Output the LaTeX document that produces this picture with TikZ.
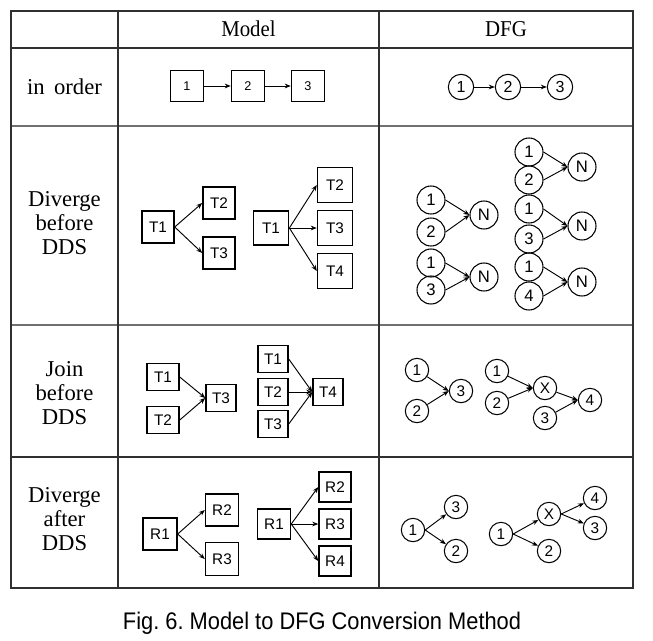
\documentclass[tikz,border=0pt]{standalone}
\usepackage{fontspec}
\setmainfont{Liberation Serif}
\newfontfamily\lsans{Liberation Sans}
\usetikzlibrary{arrows.meta}
\definecolor{rowgray}{HTML}{707070}
\definecolor{edge}{HTML}{303030}
\begin{document}
\begin{tikzpicture}[x=0.75pt,y=-0.75pt,
  lbl/.style={font=\fontsize{17}{18}\selectfont, align=center, inner sep=0},
  bx/.style={draw=black, line width=1.1pt, minimum width=24pt, minimum height=24pt, inner sep=0, font=\lsans\fontsize{11.5}{12}\selectfont},
  cr/.style={draw=black, circle, line width=0.8pt, minimum size=21pt, inner sep=0, font=\lsans\fontsize{12.5}{13}\selectfont},
  crs/.style={cr, minimum size=17.5pt, font=\lsans\fontsize{11.5}{12}\selectfont},
  ar/.style={-{Stealth[length=4.5pt,width=3.5pt]}, line width=0.7pt},
  rowline/.style={draw=rowgray, line width=1.4pt},
  thinline/.style={draw=edge, line width=1pt}
]
\useasboundingbox (0,0) rectangle (653,640);
% table
\draw[rowline] (11,126) -- (633,126);
\draw[rowline] (11,325) -- (633,325);
\draw[thinline] (11,48) -- (633,48);
\draw[thinline] (11,457) -- (633,457);
\draw[thinline] (118,11) -- (118,588);
\draw[thinline] (379,11) -- (379,588);
\draw[draw=edge, line width=1.4pt] (11,11) rectangle (633,588);
% headers
\node[lbl] (hm) at (248.5,29) {\scalebox{0.92}[1]{Model}};
\node[lbl] (hd) at (506,29) {\scalebox{0.92}[1]{DFG}};
\node[lbl] (r1) at (64.5,87) {in\, order};
\node[lbl] (r2) at (64.5,223) {Diverge\\before\\DDS};
\node[lbl] (r3) at (64.5,393) {Join\\before\\DDS};
\node[lbl] (r4) at (64.5,519) {Diverge\\after\\DDS};
% row: in order
\node[bx, minimum width=24.75pt, minimum height=23.25pt, font=\lsans\fontsize{9.5}{10}\selectfont] (o1) at (187,86) {1};
\node[bx, minimum width=24.75pt, minimum height=23.25pt, font=\lsans\fontsize{9.5}{10}\selectfont] (o2) at (248,86) {2};
\node[bx, minimum width=24.75pt, minimum height=23.25pt, font=\lsans\fontsize{9.5}{10}\selectfont] (o3) at (308,86) {3};
\draw[ar] (o1) -- (o2);
\draw[ar] (o2) -- (o3);
\node[cr, minimum size=19pt, font=\lsans\fontsize{12}{12}\selectfont] (c1) at (461,87) {1};
\node[cr, minimum size=19pt, font=\lsans\fontsize{12}{12}\selectfont] (c2) at (508,87) {2};
\node[cr, minimum size=19pt, font=\lsans\fontsize{12}{12}\selectfont] (c3) at (560,87) {3};
\draw[ar] (c1) -- (c2);
\draw[ar] (c2) -- (c3);
% row: diverge before DDS - model
\node[bx] (a1) at (158,227) {T1};
\node[bx] (a2) at (219,203) {T2};
\node[bx] (a3) at (219,253) {T3};
\draw[ar] (a1.east) -- (a2.west);
\draw[ar] (a1.east) -- (a3.west);
\node[bx, minimum width=26.25pt, minimum height=25.5pt, line width=1.3pt] (b1) at (271,228) {T1};
\node[bx, minimum width=26.25pt, minimum height=26.25pt] (b2) at (335,185) {T2};
\node[bx, minimum width=26.25pt, minimum height=26.25pt] (b3) at (335,228) {T3};
\node[bx, minimum width=26.25pt, minimum height=26.25pt] (b4) at (335,271) {T4};
\draw[ar] (b1.east) -- (b2.west);
\draw[ar] (b1.east) -- (b3.west);
\draw[ar] (b1.east) -- (b4.west);
% row: diverge before DDS - DFG
\node[cr] (ga1) at (431,200) {1};
\node[cr] (ga2) at (431,232) {2};
\node[cr] (gaN) at (484,215) {N};
\draw[ar] (ga1.east) -- (gaN.west);
\draw[ar] (ga2.east) -- (gaN.west);
\node[cr] (gb1) at (431,263) {1};
\node[cr] (gb3) at (431,290) {3};
\node[cr] (gbN) at (484,277) {N};
\draw[ar] (gb1.east) -- (gbN.west);
\draw[ar] (gb3.east) -- (gbN.west);
\node[cr] (gc1) at (529,152) {1};
\node[cr] (gc2) at (529,180) {2};
\node[cr] (gcN) at (582,167) {N};
\draw[ar] (gc1.east) -- (gcN.west);
\draw[ar] (gc2.east) -- (gcN.west);
\node[cr] (gd1) at (529,209) {1};
\node[cr] (gd3) at (529,239) {3};
\node[cr] (gdN) at (582,226) {N};
\draw[ar] (gd1.east) -- (gdN.west);
\draw[ar] (gd3.east) -- (gdN.west);
\node[cr] (ge1) at (529,267) {1};
\node[cr] (ge4) at (529,296) {4};
\node[cr] (geN) at (582,282) {N};
\draw[ar] (ge1.east) -- (geN.west);
\draw[ar] (ge4.east) -- (geN.west);
% row: join before DDS - model
\node[bx, minimum height=20.25pt] (j1) at (163,377) {T1};
\node[bx, minimum height=20.25pt] (j2) at (163,420) {T2};
\node[bx, minimum width=22.5pt, minimum height=20.25pt] (j3) at (221,398) {T3};
\draw[ar] (j1.east) -- (j3.west);
\draw[ar] (j2.east) -- (j3.west);
\node[bx, minimum width=22.5pt, minimum height=20.25pt] (k1) at (273,359) {T1};
\node[bx, minimum width=22.5pt, minimum height=20.25pt] (k2) at (273,392) {T2};
\node[bx, minimum width=22.5pt, minimum height=20.25pt] (k3) at (273,424) {T3};
\node[bx, minimum width=22.5pt, minimum height=20.25pt] (k4) at (328,392) {T4};
\draw[ar] (k1.east) -- (k4.west);
\draw[ar] (k2.east) -- (k4.west);
\draw[ar] (k3.east) -- (k4.west);
% row: join before DDS - DFG
\node[crs] (ja1) at (417,370) {1};
\node[crs] (ja2) at (417,411) {2};
\node[crs] (ja3) at (461,391) {3};
\draw[ar] (ja1) -- (ja3.west);
\draw[ar] (ja2) -- (ja3.west);
\node[crs] (jb1) at (497,371) {1};
\node[crs] (jb2) at (497,403) {2};
\node[crs] (jbX) at (545,388) {X};
\node[crs] (jb3) at (545,418) {3};
\node[crs] (jb4) at (590,400) {4};
\draw[ar] (jb1) -- (jbX.west);
\draw[ar] (jb2) -- (jbX.west);
\draw[ar] (jbX) -- (jb4.west);
\draw[ar] (jb3) -- (jb4.west);
% row: diverge after DDS - model
\node[bx, minimum width=25.5pt, minimum height=24pt] (m1) at (160,534) {R1};
\node[bx, minimum width=24.75pt, minimum height=24pt] (m2) at (222,510) {R2};
\node[bx, minimum width=24.75pt, minimum height=24.75pt] (m3) at (222,559) {R3};
\draw[ar] (m1.east) -- (m2.west);
\draw[ar] (m1.east) -- (m3.west);
\node[bx, minimum width=24.75pt, minimum height=22.5pt] (n1) at (274,524) {R1};
\node[bx, minimum width=24pt, minimum height=22.5pt] (n2) at (335,487) {R2};
\node[bx, minimum width=24pt, minimum height=22.5pt] (n3) at (335,524) {R3};
\node[bx, minimum width=24pt, minimum height=22.5pt] (n4) at (335,561) {R4};
\draw[ar] (n1.east) -- (n2.west);
\draw[ar] (n1.east) -- (n3.west);
\draw[ar] (n1.east) -- (n4.west);
% row: diverge after DDS - DFG
\node[crs] (da1) at (413,530) {1};
\node[crs] (da3) at (456,507) {3};
\node[crs] (da2) at (456,551) {2};
\draw[ar] (da1.east) -- (da3);
\draw[ar] (da1.east) -- (da2);
\node[crs] (db1) at (501,534) {1};
\node[crs] (dbX) at (549,514) {X};
\node[crs] (db2) at (549,551) {2};
\node[crs] (db4) at (595,498) {4};
\node[crs] (db3) at (595,528) {3};
\draw[ar] (db1.east) -- (dbX);
\draw[ar] (db1.east) -- (db2);
\draw[ar] (dbX.east) -- (db4);
\draw[ar] (dbX.east) -- (db3);
% caption
\node[font=\lsans\fontsize{18}{20}\selectfont, inner sep=0] (cap) at (322,623) {\scalebox{0.91}[1]{Fig.\ 6.\ Model to DFG Conversion Method}};
\end{tikzpicture}
\end{document}
